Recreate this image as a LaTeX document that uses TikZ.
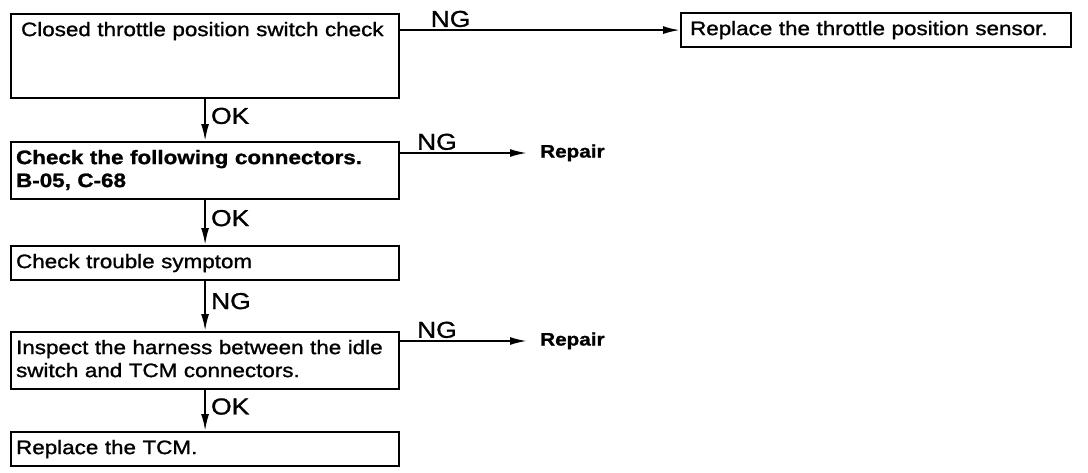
\documentclass[tikz,border=0pt]{standalone}
\usepackage{fontspec}
\setmainfont[FakeStretch=1.15, FakeBold=1.2]{Liberation Sans}
\usetikzlibrary{arrows.meta}
\begin{document}
\begin{tikzpicture}[x=1pt, y=-1pt,
  box/.style={draw, line width=2.2pt, anchor=north west, align=left,
    inner xsep=5pt, inner ysep=7pt, text width=378pt,
    text height=15pt, text depth=5pt, font=\fontsize{19.5}{23}\selectfont},
  flow/.style={line width=2pt, -{Latex[length=17pt, width=8pt]}},
  lbl/.style={font=\fontsize{23}{26}\selectfont, inner sep=2pt},
  repair/.style={anchor=west, inner xsep=13pt, inner ysep=0pt, text height=14pt,
    text depth=5pt, font=\fontsize{18}{22}\selectfont\bfseries}]

\useasboundingbox (0,0) rectangle (1088,472);

% boxes
\node[box, inner xsep=10pt, text width=368pt, text depth=55pt] (closed) at (10,13)
  {Closed throttle position switch check};
\node[box, inner xsep=9pt, text width=372pt] (replace) at (680,12)
  {Replace the throttle position sensor.};
\node[box, text depth=28pt, font=\fontsize{19.5}{23}\selectfont\bfseries] (conn) at (10,141)
  {Check the following connectors.\\ B-05, C-68};
\node[box] (symptom) at (10,245) {Check trouble symptom};
\node[box, text depth=28pt] (harness) at (10,331)
  {Inspect the harness between the idle\\ switch and TCM connectors.};
\node[box] (tcm) at (10,431) {Replace the TCM.};

\node[repair] (repairA) at (527,153) {Repair};
\node[repair] (repairB) at (527,341) {Repair};

% arrows
\draw[flow] (closed.east |- replace.west) -- (replace.west) node[lbl, above, pos=.18]{NG};
\draw[flow] (closed.south) -- (conn.north) node[lbl, right=3pt, pos=.4]{OK};
\draw[flow] (conn.east |- repairA.west) -- (repairA.west) node[lbl, above, pos=.29]{NG};
\draw[flow] (conn.south) -- (symptom.north) node[lbl, right=3pt, pos=.4]{OK};
\draw[flow] (symptom.south) -- (harness.north) node[lbl, right=3pt, pos=.4]{NG};
\draw[flow] (harness.east |- repairB.west) -- (repairB.west) node[lbl, above, pos=.29]{NG};
\draw[flow] (harness.south) -- (tcm.north) node[lbl, right=3pt, pos=.4]{OK};
\end{tikzpicture}
\end{document}
